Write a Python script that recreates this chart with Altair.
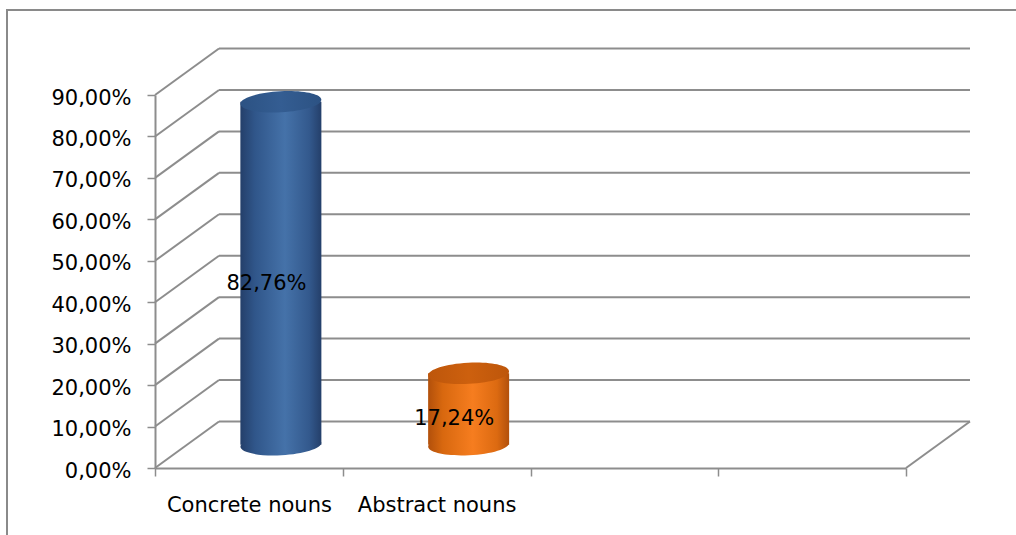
import altair as alt
import pandas as pd

# Shares of noun types
categories = ["Concrete nouns", "Abstract nouns"]
shares = [0.8276, 0.1724]
# Two unused category slots complete the 4-band floor
axis_slots = categories + ["", " "]
y_ticks = [0.0, 0.1, 0.2, 0.3, 0.4, 0.5, 0.6, 0.7, 0.8, 0.9]

FONT = "DejaVu Sans"
FS = 21
GRID = "#8d8d8d"
DX, DY = 64, -46.5          # depth of the 3-D box (front -> back wall)
CX, CY = DX / 2, DY / 2     # cylinders stand half-way into the box
CYL_W = 81

ELLIPSE = ("M-1,0C-1,-0.1436,-0.5523,-0.26,0,-0.26C0.5523,-0.26,1,-0.1436,1,0"
           "C1,0.1436,0.5523,0.26,0,0.26C-0.5523,0.26,-1,0.1436,-1,0Z")

df = pd.DataFrame({"category": categories, "share": shares})
ticks_df = pd.DataFrame({"tick": y_ticks})

y_scale = alt.Scale(domain=[0, 0.9], nice=False, zero=False)
x_scale = alt.Scale(domain=axis_slots, paddingInner=0, paddingOuter=0)

y_axis = alt.Axis(
    title=None, values=y_ticks, tickSize=8, tickColor=GRID, tickWidth=1.5,
    domainColor=GRID, domainWidth=2, grid=False,
    labelExpr="replace(format(datum.value, '.2%'), '.', ',')",
    labelFont=FONT, labelFontSize=FS, labelColor="#000000", labelPadding=16,
    labelOffset=3,
)
x_axis = alt.Axis(
    title=None, labelAngle=0, tickBand="extent", tickSize=8,
    tickColor=GRID, tickWidth=1.5, domainColor=GRID, domainWidth=2,
    labelFont=FONT, labelFontSize=FS, labelColor="#000000",
    labelPadding=18, grid=False,
)


def grad(stops):
    return alt.Gradient(
        gradient="linear", x1=0, x2=1, y1=0, y2=0,
        stops=[alt.GradientStop(color=c, offset=o) for o, c in stops],
    )


palette = {
    "Concrete nouns": {
        "body": grad([(0, "#243f6a"), (0.18, "#30568a"), (0.55, "#4572a9"),
                      (0.85, "#33598d"), (1, "#243f6a")]),
        "top": grad([(0, "#2c5283"), (0.5, "#345d92"), (1, "#2c5283")]),
    },
    "Abstract nouns": {
        "body": grad([(0, "#b2500b"), (0.18, "#d8680f"), (0.55, "#f67d1f"),
                      (0.85, "#dc6a11"), (1, "#b2500b")]),
        "top": grad([(0, "#bd560b"), (0.5, "#cd600e"), (1, "#bd560b")]),
    },
}

base = alt.Chart(df)
x_enc = alt.X("category:N", scale=x_scale, sort=None, axis=x_axis)

# Front axes
axes = base.mark_bar(opacity=0).encode(
    x=x_enc,
    y=alt.Y("share:Q", scale=y_scale, axis=y_axis),
)

# Back wall gridlines
back_wall = alt.Chart(ticks_df).mark_rule(
    color=GRID, strokeWidth=2, xOffset=DX, x2Offset=DX, yOffset=DY, y2Offset=DY
).encode(
    x=alt.value(0), x2=alt.value("width"),
    y=alt.Y("tick:Q", scale=y_scale, axis=y_axis),
)

# Left side wall: lines from the front axis back to the wall
side_wall = alt.Chart(ticks_df).mark_rule(
    color=GRID, strokeWidth=2, x2Offset=DX, y2Offset=DY
).encode(
    x=alt.value(0), x2=alt.value(0),
    y=alt.Y("tick:Q", scale=y_scale, axis=y_axis), y2="tick:Q",
)

# Right edge of the floor
floor_edge = alt.Chart(ticks_df).transform_filter("datum.tick == 0").mark_rule(
    color=GRID, strokeWidth=2, x2Offset=DX, y2Offset=DY
).encode(
    x=alt.value("width"), x2=alt.value("width"),
    y=alt.Y("tick:Q", scale=y_scale, axis=y_axis), y2="tick:Q",
)

layers = [axes, back_wall, side_wall, floor_edge]

# Cylinders: base ellipse, body, top ellipse
for cat in categories:
    sel = base.transform_filter(alt.datum.category == cat)
    bottom = sel.mark_point(
        shape=ELLIPSE, size=CYL_W ** 2, filled=True, opacity=1, strokeWidth=0,
        fill=palette[cat]["body"], xOffset=CX, yOffset=CY, angle=357,
    ).encode(x=x_enc, y=alt.Y(datum=0, scale=y_scale, axis=y_axis))
    body = sel.mark_bar(
        width=CYL_W, fill=palette[cat]["body"],
        xOffset=CX, yOffset=CY, y2Offset=CY,
    ).encode(x=x_enc, y=alt.Y("share:Q", scale=y_scale, axis=y_axis),
             y2=alt.Y2(datum=0))
    top = sel.mark_point(
        shape=ELLIPSE, size=CYL_W ** 2, filled=True, opacity=1, strokeWidth=0,
        fill=palette[cat]["top"], xOffset=CX, yOffset=CY, angle=357,
    ).encode(x=x_enc, y=alt.Y("share:Q", scale=y_scale, axis=y_axis))
    layers += [bottom, body, top]

labels = base.transform_calculate(
    mid="datum.share / 2",
    txt="replace(format(datum.share, '.2%'), '.', ',')",
).mark_text(
    font=FONT, fontSize=FS, color="#000000", dx=CX * 0.55, dy=CY * 0.55,
    baseline="middle", align="center",
).encode(
    x=x_enc,
    y=alt.Y("mid:Q", scale=y_scale, axis=y_axis),
    text="txt:N",
)

# Outer chart frame
frame = alt.Chart(ticks_df).transform_filter("datum.tick == 0").mark_rect(
    fill="transparent", stroke="#8a8a8a", strokeWidth=2
).encode(
    x=alt.value(-148), x2=alt.value(880),
    y=alt.value(-85), y2=alt.value(460),
)

layers += [labels, frame]

chart = alt.layer(*layers).properties(
    width=751, height=373,
    background="#ffffff",
    autosize=alt.AutoSizeParams(type="none"),
    padding={"left": 155, "top": 95, "right": 110, "bottom": 67},
).configure_view(strokeWidth=0, stroke="transparent")

chart.save("out.html", embed_options={"renderer": "svg", "actions": False})
